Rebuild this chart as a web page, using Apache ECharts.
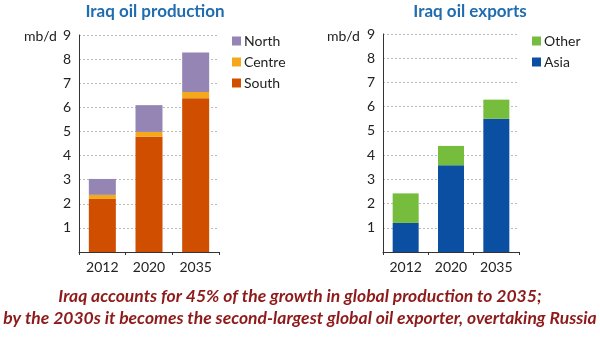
<!DOCTYPE html>
<html><head><meta charset="utf-8">
<script src="https://cdn.jsdelivr.net/npm/echarts@6/dist/echarts.min.js"></script>
<style>html,body{margin:0;padding:0;background:#fff}#c{width:600px;height:352px}</style>
</head><body><div id="c"></div>
<script>
var years = ['2012', '2020', '2035'];
var south = [2.2, 4.78, 6.38];
var centre = [0.17, 0.2, 0.26];
var north = [0.66, 1.11, 1.63];
var asia = [1.2, 3.58, 5.5];
var other = [1.22, 0.8, 0.79];
var yTicks = [0, 1, 2, 3, 4, 5, 6, 7, 8, 9];

var font = 'Lato, "Open Sans", sans-serif';
var chart = echarts.init(document.getElementById('c'));
function yAxis(gi) {
  return {
    type: 'value', gridIndex: gi, min: yTicks[0], max: yTicks[yTicks.length - 1], interval: 1,
    axisLine: {show: true, lineStyle: {color: '#333', width: 1}},
    axisTick: {show: false},
    axisLabel: {show: true, color: '#222', fontSize: 14, fontFamily: font, margin: 8,
      formatter: function (v) { return v === 0 ? '' : String(v); }},
    splitLine: {show: true, lineStyle: {color: '#bbb', type: [2, 2], width: 1}}
  };
}
function xAxis(gi) {
  return {
    type: 'category', gridIndex: gi, data: years,
    axisLine: {lineStyle: {color: '#333', width: 1}},
    axisTick: {show: true, length: 3, lineStyle: {color: '#333'}},
    axisLabel: {color: '#222', fontSize: 14, fontFamily: font, margin: 8}
  };
}
chart.setOption({
  animation: false,
  title: [
    {text: 'Iraq oil production', left: 150, top: -2, textAlign: 'center',
      textStyle: {color: '#1f6db0', fontSize: 17, fontWeight: 'bold', fontFamily: font}},
    {text: 'Iraq oil exports', left: 465, top: -2, textAlign: 'center',
      textStyle: {color: '#1f6db0', fontSize: 17, fontWeight: 'bold', fontFamily: font}}
  ],
  legend: [
    {data: ['North', 'Centre', 'South'], orient: 'vertical', left: 227, top: 29, itemGap: 7,
      itemWidth: 9, itemHeight: 9, icon: 'rect',
      textStyle: {color: '#222', fontSize: 14, fontFamily: font, padding: [0, 0, 0, -2]}},
    {data: ['Other', 'Asia'], orient: 'vertical', left: 527, top: 29, itemGap: 7,
      itemWidth: 9, itemHeight: 9, icon: 'rect',
      textStyle: {color: '#222', fontSize: 14, fontFamily: font, padding: [0, 0, 0, -2]}}
  ],
  grid: [
    {left: 79, top: 35, width: 140, height: 217},
    {left: 383, top: 34, width: 136, height: 218}
  ],
  xAxis: [xAxis(0), xAxis(1)],
  yAxis: [yAxis(0), yAxis(1)],
  graphic: [
    {type: 'text', left: 24, top: 29, style: {text: 'mb/d', fill: '#222', fontSize: 14, fontFamily: font}},
    {type: 'text', left: 327, top: 29, style: {text: 'mb/d', fill: '#222', fontSize: 14, fontFamily: font}},
    {type: 'text', x: 300, y: 285, style: {
      text: 'Iraq accounts for 45% of the growth in global production to 2035;\nby the 2030s it becomes the second-largest global oil exporter, overtaking Russia',
      fill: '#8e1a1a', fontSize: 17.5, fontWeight: 'bold', fontStyle: 'italic', fontFamily: font,
      align: 'center', verticalAlign: 'top', lineHeight: 22}}
  ],
  series: [
    {name: 'South', type: 'bar', stack: 'p', xAxisIndex: 0, yAxisIndex: 0, data: south,
      barWidth: 27, itemStyle: {color: '#d04e00'}},
    {name: 'Centre', type: 'bar', stack: 'p', xAxisIndex: 0, yAxisIndex: 0, data: centre,
      barWidth: 27, itemStyle: {color: '#f5a81c'}},
    {name: 'North', type: 'bar', stack: 'p', xAxisIndex: 0, yAxisIndex: 0, data: north,
      barWidth: 27, itemStyle: {color: '#9485b5'}},
    {name: 'Asia', type: 'bar', stack: 'e', xAxisIndex: 1, yAxisIndex: 1, data: asia,
      barWidth: 26, itemStyle: {color: '#0b4fa3'}},
    {name: 'Other', type: 'bar', stack: 'e', xAxisIndex: 1, yAxisIndex: 1, data: other,
      barWidth: 26, itemStyle: {color: '#76bd3d'}}
  ]
});
</script></body></html>
